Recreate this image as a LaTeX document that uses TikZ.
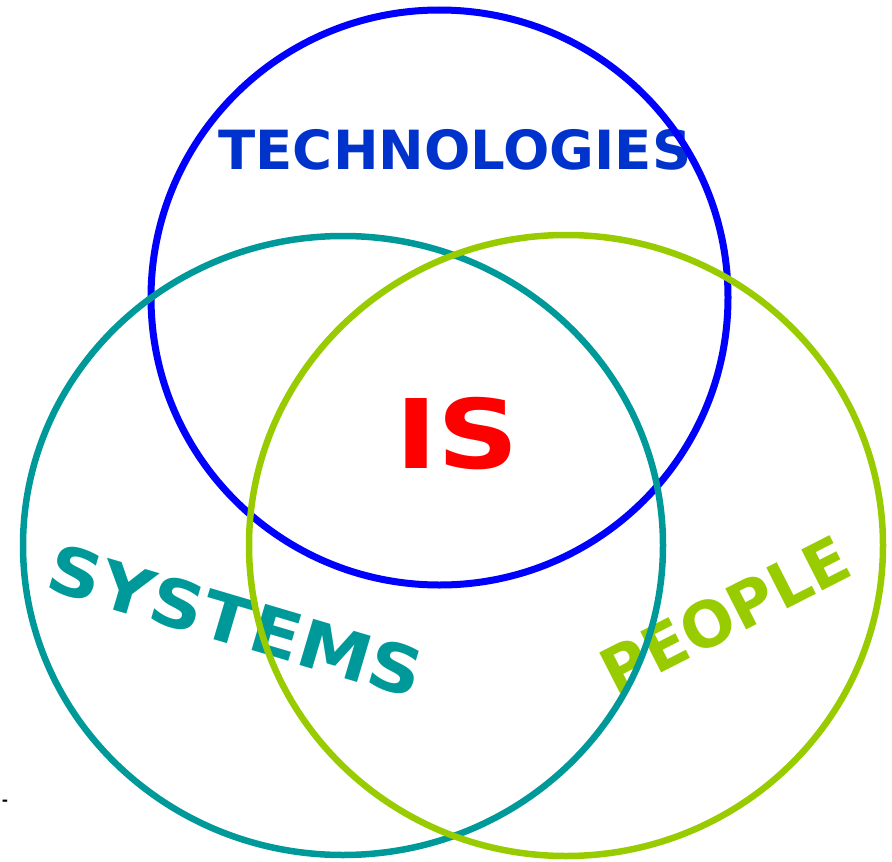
\documentclass[tikz,border=0pt]{standalone}
\usepackage{fontspec}
\setmainfont{DejaVu Sans}
\definecolor{techblue}{HTML}{0033CC}
\definecolor{ringblue}{HTML}{0000FF}
\definecolor{isred}{HTML}{FF0000}
\definecolor{teal}{HTML}{009999}
\definecolor{lime}{HTML}{99CC00}
\begin{document}
\begin{tikzpicture}[x=1pt,y=-1pt,
  lbl/.style={inner sep=0pt, font=\bfseries},
  ring/.style={line width=6.5pt}]
\useasboundingbox (0,0) rectangle (892,862);
% labels (drawn below the rings)
\node[lbl, text=techblue, font=\bfseries\fontsize{54}{60}\selectfont] (tech) at (455,150) {\scalebox{1.01}[1]{TECHNOLOGIES}};
\node[lbl, text=isred, font=\bfseries\fontsize{96}{100}\selectfont] (is) at (457,434) {\scalebox{1.18}[1]{IS}};
\node[lbl, text=teal, rotate=-16.5, font=\bfseries\fontsize{66}{70}\selectfont] (sys) at (236,621) {\scalebox{1.12}[1]{SYSTEMS}};
\node[lbl, text=lime, rotate=27, font=\bfseries\fontsize{63}{66}\selectfont] (ppl) at (725,615) {\scalebox{0.99}[1]{PEOPLE}};
\node[inner sep=0pt, font=\bfseries\fontsize{15}{15}\selectfont] (dash) at (5,803) {-};
% rings
\draw[ring, line width=7pt, ringblue] (439.5,297.5) ellipse [x radius=288.5pt, y radius=287.5pt];
\draw[ring, teal] (343,545.5) ellipse [x radius=320pt, y radius=309.5pt];
\draw[ring, lime] (566,545.5) ellipse [x radius=317pt, y radius=310.5pt];
\end{tikzpicture}
\end{document}
